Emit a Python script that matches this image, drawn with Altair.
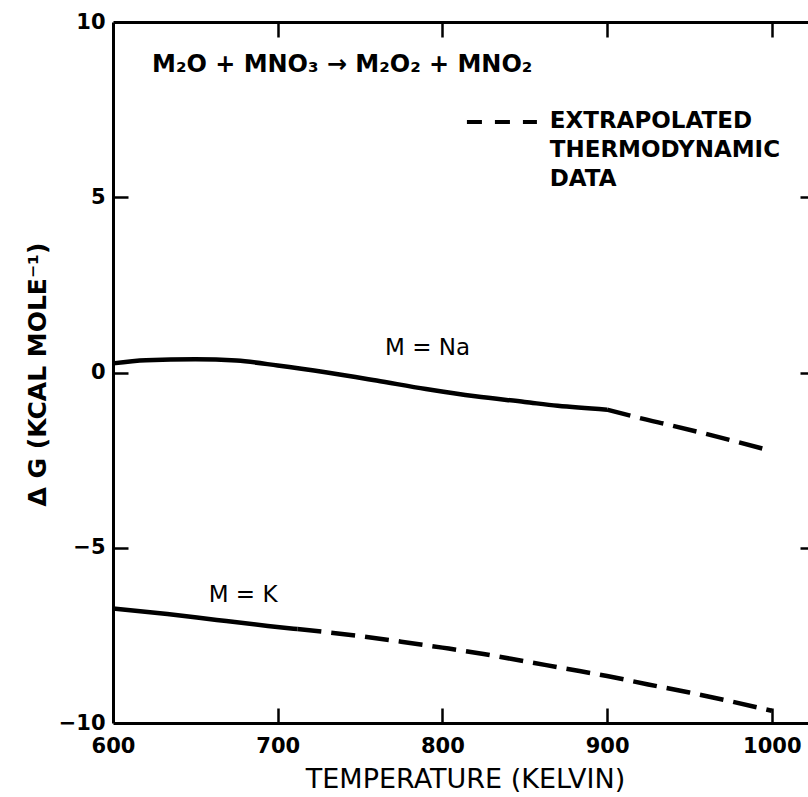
import altair as alt
import pandas as pd

# ---- data ----
na_solid_T = [600, 620, 650, 675, 700, 730, 760, 790, 820, 850, 870, 900]
na_solid_G = [0.26, 0.35, 0.38, 0.34, 0.20, 0.00, -0.23, -0.47, -0.68, -0.84, -0.95, -1.06]
na_dash_T = [900, 920, 940, 960, 980, 1000]
na_dash_G = [-1.06, -1.30, -1.52, -1.75, -1.99, -2.24]

k_solid_T = [600, 633, 663, 694, 712]
k_solid_G = [-6.73, -6.89, -7.06, -7.23, -7.32]
k_dash_T = [712, 750, 775, 800, 825, 850, 875, 900, 925, 950, 975, 1000]
k_dash_G = [-7.32, -7.52, -7.68, -7.85, -8.03, -8.24, -8.45, -8.66, -8.90, -9.13, -9.38, -9.65]

x_ticks = [600, 700, 800, 900, 1000]
x_inner_ticks = [700, 800, 900, 1000]
y_ticks = [-10, -5, 0, 5, 10]
y_inner_ticks = [-5, 0, 5]

label_text = ["M  =  Na", "M  =  K"]
label_T = [791, 679]
label_G = [0.70, -6.35]

equation = "M\u2082O + MNO\u2083 \u2192 M\u2082O\u2082 + MNO\u2082"
eq_T, eq_G = 623.7, 8.77

legend_lines = ["EXTRAPOLATED", "THERMODYNAMIC", "DATA"]
legend_T = 865.2
legend_G = [7.18, 6.35, 5.53]
legend_dash_T = [814.9, 857.4]
legend_dash_G = 7.15

X_DOMAIN = [600, 1022]
Y_DOMAIN = [-10, 10]
FONT = "DejaVu Sans"
W, H = 695, 701
TICK = "black"

solid = pd.DataFrame({
    "T": na_solid_T + k_solid_T,
    "G": na_solid_G + k_solid_G,
    "series": ["Na"] * len(na_solid_T) + ["K"] * len(k_solid_T),
})
dashed = pd.DataFrame({
    "T": na_dash_T + k_dash_T,
    "G": na_dash_G + k_dash_G,
    "series": ["Na"] * len(na_dash_T) + ["K"] * len(k_dash_T),
})

xs = alt.Scale(domain=X_DOMAIN, nice=False, zero=False)
ys = alt.Scale(domain=Y_DOMAIN, nice=False, zero=False)

main = alt.Chart(solid).mark_line(color="black", strokeWidth=4.5, interpolate="monotone").encode(
    x=alt.X("T:Q", scale=xs, axis=alt.Axis(
        orient="bottom", values=x_ticks, format="d", ticks=False, domain=True,
        domainColor="black", domainWidth=3, labelFlush=False, labelPadding=12,
        labelFont=FONT, labelFontSize=21, labelColor="black", labelFontWeight="bold",
        grid=False, title="TEMPERATURE (KELVIN)", titleFont=FONT, titleFontSize=27,
        titleFontWeight="normal", titleColor="black", titleX=352, titleY=56,
        titleBaseline="middle", titleAlign="center")),
    y=alt.Y("G:Q", scale=ys, axis=alt.Axis(
        orient="left", values=y_ticks, format="d", ticks=False, domain=True,
        domainColor="black", domainWidth=3, labelPadding=8, labelFlush=False,
        labelFont=FONT, labelFontSize=21, labelColor="black", labelFontWeight="bold",
        grid=False, title="\u0394  G  (KCAL  MOLE\u207b\u00b9)", titleFont=FONT,
        titleFontSize=25, titleFontWeight="bold", titleColor="black",
        titleAngle=270, titleX=-76, titleY=352, titleBaseline="middle", titleAlign="center")),
    detail="series:N",
)

dash_layer = alt.Chart(dashed).mark_line(
    color="black", strokeWidth=4.5, strokeDash=[24, 10], interpolate="monotone"
).encode(
    x=alt.X("T:Q", scale=xs, axis=None),
    y=alt.Y("G:Q", scale=ys, axis=None),
    detail="series:N",
)

# top frame line + inward ticks on the right side
top_frame = alt.Chart(solid).mark_point(opacity=0).encode(
    x=alt.X("T:Q", scale=xs, axis=alt.Axis(
        orient="top", ticks=False, labels=False, domain=True, domainColor="black",
        domainWidth=3, grid=False, title=None)),
    y=alt.Y("G:Q", scale=ys, axis=alt.Axis(
        orient="right", offset=-8, values=y_inner_ticks, ticks=True, tickSize=15,
        tickWidth=2.5, tickColor=TICK, labels=False, domain=False, grid=False, title=None)),
)

# inward ticks along the bottom edge + inward ticks on the left
inner_ticks_bl = alt.Chart(solid).mark_point(opacity=0).encode(
    x=alt.X("T:Q", scale=xs, axis=alt.Axis(
        orient="top", offset=-H, values=x_inner_ticks, ticks=True, tickSize=15,
        tickWidth=2.5, tickColor=TICK, labels=False, domain=False, grid=False, title=None)),
    y=alt.Y("G:Q", scale=ys, axis=alt.Axis(
        orient="left", offset=-15, values=y_inner_ticks, ticks=True, tickSize=15,
        tickWidth=2.5, tickColor=TICK, labels=False, domain=False, grid=False, title=None)),
)

# inward ticks along the top edge
inner_ticks_t = alt.Chart(solid).mark_point(opacity=0).encode(
    x=alt.X("T:Q", scale=xs, axis=alt.Axis(
        orient="top", offset=-15, values=x_inner_ticks, ticks=True, tickSize=15,
        tickWidth=2.5, tickColor=TICK, labels=False, domain=False, grid=False, title=None)),
    y=alt.Y("G:Q", scale=ys, axis=None),
)

labels_df = pd.DataFrame({"T": label_T, "G": label_G, "text": label_text})
labels = alt.Chart(labels_df).mark_text(
    font=FONT, fontSize=23, fontWeight="normal", color="black", align="center", baseline="middle"
).encode(
    x=alt.X("T:Q", scale=xs, axis=None), y=alt.Y("G:Q", scale=ys, axis=None), text="text:N"
)

eq_df = pd.DataFrame({"T": [eq_T], "G": [eq_G], "text": [equation]})
eq = alt.Chart(eq_df).mark_text(
    font=FONT, fontSize=24, fontWeight="bold", color="black", align="left", baseline="middle"
).encode(
    x=alt.X("T:Q", scale=xs, axis=None), y=alt.Y("G:Q", scale=ys, axis=None), text="text:N"
)

leg_df = pd.DataFrame({"T": [legend_T] * 3, "G": legend_G, "text": legend_lines})
leg_text = alt.Chart(leg_df).mark_text(
    font=FONT, fontSize=23, fontWeight="bold", color="black", align="left", baseline="middle"
).encode(
    x=alt.X("T:Q", scale=xs, axis=None), y=alt.Y("G:Q", scale=ys, axis=None), text="text:N"
)

leg_dash_df = pd.DataFrame({"T": [legend_dash_T[0]], "T2": [legend_dash_T[1]], "G": [legend_dash_G]})
leg_dash = alt.Chart(leg_dash_df).mark_rule(color="black", strokeWidth=4, strokeDash=[15, 13]).encode(
    x=alt.X("T:Q", scale=xs, axis=None), x2="T2:Q", y=alt.Y("G:Q", scale=ys, axis=None)
)

chart = alt.layer(
    main, dash_layer, top_frame, inner_ticks_bl, inner_ticks_t, labels, eq, leg_text, leg_dash
).resolve_axis(x="independent", y="independent").properties(
    width=W, height=H,
    autosize=alt.AutoSizeParams(type="none"),
    padding={"left": 113, "top": 22, "right": 0, "bottom": 74},
    background="white",
).configure_view(stroke=None)

chart.save("out.html", embed_options={"renderer": "svg", "actions": False})
